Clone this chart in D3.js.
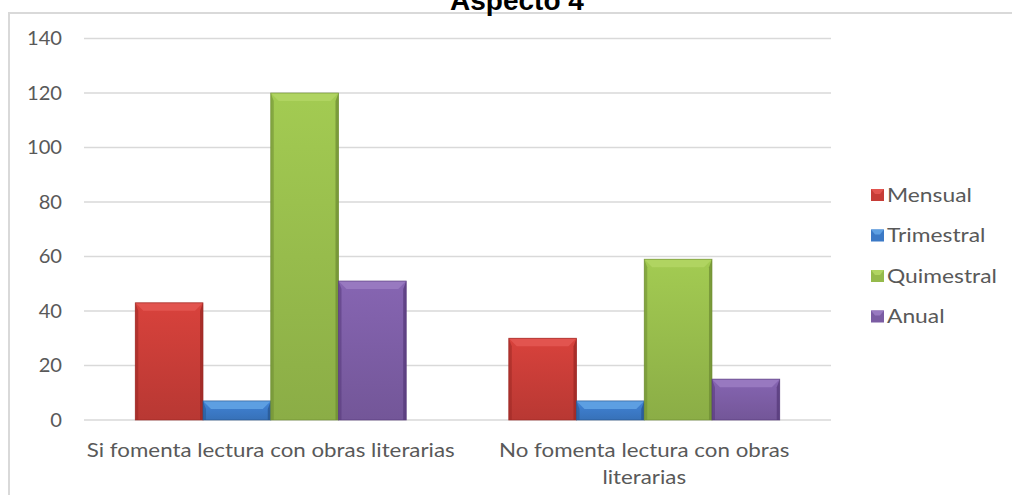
<!DOCTYPE html>
<html lang="es">
<head>
<meta charset="utf-8">
<title>Aspecto 4</title>
<script src="https://d3js.org/d3.v7.min.js"></script>
<style>
  body { margin: 0; background: #fff; }
  text { font-family: Lato, "Open Sans", sans-serif; fill: #595959; }
  .title { font-family: "Liberation Sans", Arial, sans-serif; font-weight: bold; fill: #000; }
</style>
</head>
<body>
<div id="chart"></div>
<script>
// data
const categories = ["Si fomenta lectura con obras literarias", "No fomenta lectura con obras literarias"];
const categoryLines = [["Si fomenta lectura con obras literarias"], ["No fomenta lectura con obras", "literarias"]];
const series = ["Mensual", "Trimestral", "Quimestral", "Anual"];
const valuesSi = [43, 7, 120, 51];
const valuesNo = [30, 7, 59, 15];
const yTicks = [0, 20, 40, 60, 80, 100, 120, 140];

const width = 1012, height = 495;
const margin = {top: 38.5, right: 181, bottom: 75, left: 84};

// light, mid, dark per series
const palette = {
  Mensual:    ["#e2544f", "#c63c37", "#9a2824"],
  Trimestral: ["#5d9fe2", "#3b79c6", "#27558f"],
  Quimestral: ["#b0d461", "#95ba4b", "#6e8c33"],
  Anual:      ["#9879c0", "#7b5ca3", "#56397a"]
};

// the source text is drawn a bit wider than the font's natural width
function stretch(sel, k) {
  sel.each(function() {
    const len = this.getComputedTextLength();
    d3.select(this).attr("textLength", len * k).attr("lengthAdjust", "spacingAndGlyphs");
  });
}

const data = [];
categories.forEach((c, i) => {
  const vals = i === 0 ? valuesSi : valuesNo;
  series.forEach((s, j) => data.push({cat: c, series: s, value: vals[j]}));
});

const svg = d3.select("#chart").append("svg")
    .attr("width", width)
    .attr("height", height);

const defs = svg.append("defs");
series.forEach((s, i) => {
  const [light, mid, dark] = palette[s];
  const g = defs.append("linearGradient")
      .attr("id", "grad" + i)
      .attr("x1", 0).attr("x2", 0).attr("y1", 0).attr("y2", 1);
  g.append("stop").attr("offset", "0%").attr("stop-color", d3.color(mid).brighter(0.25));
  g.append("stop").attr("offset", "100%").attr("stop-color", d3.color(mid).darker(0.2));
});

// chart frame (only top and left visible)
svg.append("path")
    .attr("d", `M9,${height}V13H${width}`)
    .attr("fill", "none")
    .attr("stroke", "#d9d9d9")
    .attr("stroke-width", 2);

svg.append("text")
    .attr("class", "title")
    .attr("x", 517)
    .attr("y", 10)
    .attr("text-anchor", "middle")
    .style("font-size", "28px")
    .text("Aspecto 4");

const y = d3.scaleLinear()
    .domain([0, 140])
    .range([420, margin.top]);

const x0 = d3.scaleBand()
    .domain(categories)
    .range([margin.left, width - margin.right]);

const x1 = d3.scaleBand()
    .domain(series)
    .range([0, x0.bandwidth()])
    .paddingOuter(0.757);

// gridlines
svg.append("g")
  .selectAll("line")
  .data(yTicks)
  .join("line")
    .attr("x1", margin.left)
    .attr("x2", width - margin.right)
    .attr("y1", d => y(d))
    .attr("y2", d => y(d))
    .attr("stroke", "#d9d9d9")
    .attr("stroke-width", 1.3);

// y axis labels
const yAxis = d3.axisLeft(y).tickValues(yTicks).tickSize(0).tickPadding(0);
svg.append("g")
    .attr("transform", `translate(62,0)`)
    .call(yAxis)
    .call(g => g.select(".domain").remove())
    .call(g => g.selectAll("text")
        .style("font-family", "Lato, sans-serif")
        .style("font-size", "19px")
        .attr("fill", "#595959")
        .call(stretch, 1.06));

// bars with a bevel look
const bars = svg.append("g")
  .selectAll("g")
  .data(data)
  .join("g")
    .attr("transform", d => `translate(${x0(d.cat) + x1(d.series)},${y(d.value)})`);

bars.each(function(d) {
  const g = d3.select(this);
  const w = x1.bandwidth();
  const h = y(0) - y(d.value);
  const [light, mid, dark] = palette[d.series];
  const i = series.indexOf(d.series);
  const b = Math.min(8, h / 2);
  const s = Math.min(3, w / 4);
  g.append("rect")
      .attr("width", w).attr("height", h)
      .attr("fill", `url(#grad${i})`);
  // top bevel
  g.append("path")
      .attr("d", `M0,0H${w}L${w - b},${b}H${b}Z`)
      .attr("fill", light);
  // side bevels
  g.append("path")
      .attr("d", `M0,0L${s},${b}V${h}H0Z`)
      .attr("fill", dark).attr("opacity", 0.55);
  g.append("path")
      .attr("d", `M${w},0L${w - s},${b}V${h}H${w}Z`)
      .attr("fill", dark).attr("opacity", 0.75);
  g.append("rect")
      .attr("width", w).attr("height", h)
      .attr("fill", "none")
      .attr("stroke", dark)
      .attr("stroke-width", 0.8)
      .attr("stroke-opacity", 0.8);
});

// x axis labels
const xl = svg.append("g")
  .selectAll("text")
  .data(categories)
  .join("text")
    .attr("x", d => x0(d) + x0.bandwidth() / 2)
    .attr("y", 457)
    .attr("text-anchor", "middle")
    .style("font-size", "19px");
xl.selectAll("tspan")
  .data((d, i) => categoryLines[i].map(t => ({t, x: x0(d) + x0.bandwidth() / 2})))
  .join("tspan")
    .attr("x", d => d.x)
    .attr("dy", (d, i) => i === 0 ? 0 : 27)
    .text(d => d.t)
    .call(stretch, 1.175);

// legend
const legend = svg.append("g")
  .selectAll("g")
  .data(series)
  .join("g")
    .attr("transform", (d, i) => `translate(871,${195 + i * 40.5})`);

legend.append("rect")
    .attr("y", -6)
    .attr("width", 13)
    .attr("height", 12)
    .attr("fill", d => palette[d][1]);
legend.append("path")
    .attr("d", "M0,-6H13L9,-1H4Z")
    .attr("fill", d => palette[d][0]);

legend.append("text")
    .attr("x", 16)
    .attr("dy", "0.35em")
    .style("font-size", "19px")
    .text(d => d)
    .call(stretch, 1.2);
</script>
</body>
</html>
